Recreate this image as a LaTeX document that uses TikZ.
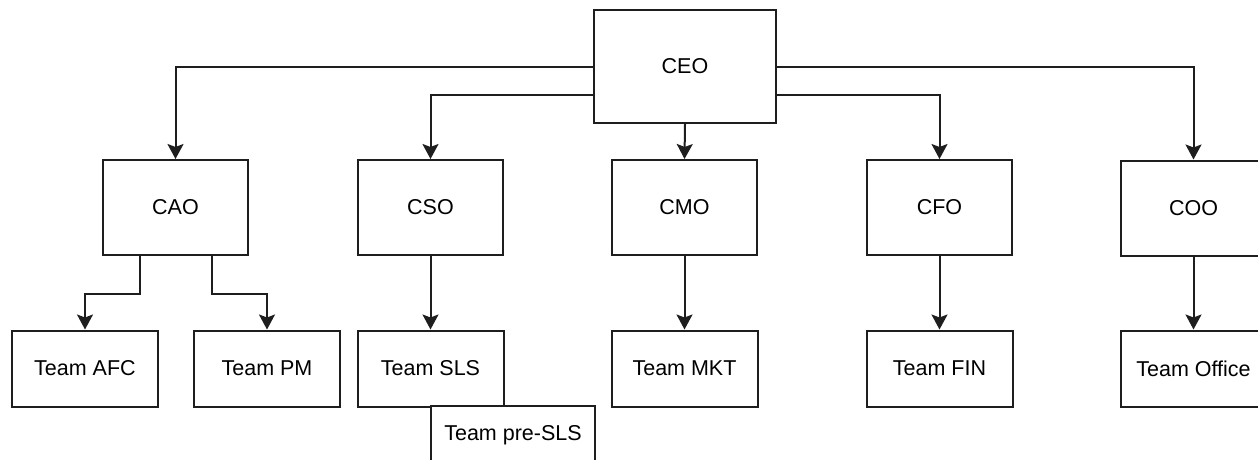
\documentclass[tikz,border=0pt]{standalone}
\usepackage{fontspec}
\setmainfont{Liberation Sans}
\usetikzlibrary{arrows.meta,calc}
\definecolor{ink}{HTML}{1E1E1E}
\tikzset{
  box/.style={draw=ink, line width=2pt, fill=white, inner sep=0pt,
    font=\fontsize{21.5}{25}\selectfont, text=black},
  big/.style={box, minimum width=182pt, minimum height=113pt},
  mgr/.style={box, minimum width=145pt, minimum height=95pt},
  team/.style={box, minimum width=146pt, minimum height=76pt},
  link/.style={draw=ink, line width=2pt,
    -{Stealth[length=15pt,width=16pt,inset=3pt]}},
}
\begin{document}
\begin{tikzpicture}[x=1pt,y=-1pt]
\useasboundingbox (0,0) rectangle (1258,459);

% executive
\node[big] (ceo) at (685,66.5) {CEO};

% officers
\node[mgr] (cao) at (175.5,207.5) {CAO};
\node[mgr] (cso) at (430.5,207.5) {CSO};
\node[mgr] (cmo) at (684.5,207.5) {CMO};
\node[mgr] (cfo) at (939.5,207.5) {CFO};
\node[mgr] (coo) at (1193.5,208) {COO};

% teams
\node[team] (afc) at (85,368.5) {Team AFC};
\node[team] (pm)  at (267,368.5) {Team PM};
\node[team] (sls) at (430.5,368.5) {Team SLS};
\node[team] (mkt) at (684.5,368.5) {Team MKT};
\node[team] (fin) at (939.5,368.5) {Team FIN};
\node[team] (ofc) at (1193.5,368.5) {Team Office};
\node[box, minimum width=164pt, minimum height=58pt] (pre) at (513,435) {Team pre-SLS};

% CEO to officers
\draw[link] (ceo.west) -| (cao.north);
\draw[link] ([yshift=-28.5pt]ceo.west) -| (cso.north);
\draw[link] (ceo.south) -- (cmo.north);
\draw[link] ([yshift=-28.5pt]ceo.east) -| (cfo.north);
\draw[link] (ceo.east) -| (coo.north);

% officers to teams
\draw[link] ([xshift=-35.5pt]cao.south) -- ++(0,38) -| (afc.north);
\draw[link] ([xshift=36.5pt]cao.south) -- ++(0,38) -| (pm.north);
\draw[link] (cso.south) -- (sls.north);
\draw[link] (cmo.south) -- (mkt.north);
\draw[link] (cfo.south) -- (fin.north);
\draw[link] (coo.south) -- (ofc.north);
\end{tikzpicture}
\end{document}
